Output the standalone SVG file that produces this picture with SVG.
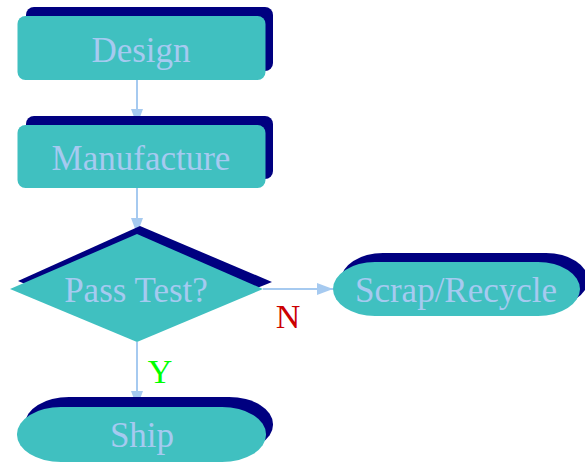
<svg xmlns="http://www.w3.org/2000/svg" width="585" height="464" viewBox="0 0 585 464">
  <style>
    .shadow { fill: #000080; }
    .body { fill: #40C0C0; }
    .label { font-family: "Liberation Serif", "Times New Roman", serif; font-size: 35px; fill: #A6CAF0; text-anchor: middle; }
    .edge { stroke: #A6CAF0; stroke-width: 2; fill: none; }
    .branch { font-family: "Liberation Serif", "Times New Roman", serif; font-size: 34px; text-anchor: middle; }
  </style>
  <defs>
    <marker id="arrow" viewBox="0 0 16 12" refX="16" refY="6" markerWidth="16" markerHeight="12" markerUnits="userSpaceOnUse" orient="auto">
      <path d="M0,0 L16,6 L0,12 Z" fill="#A6CAF0"/>
    </marker>
  </defs>
  <rect width="585" height="464" fill="#FFFFFF"/>

  <g id="connectors">
    <line class="edge" x1="137" y1="80" x2="137" y2="125" marker-end="url(#arrow)"/>
    <line class="edge" x1="137" y1="188" x2="137" y2="234" marker-end="url(#arrow)"/>
    <line class="edge" x1="263" y1="289" x2="333" y2="289" marker-end="url(#arrow)"/>
    <line class="edge" x1="137" y1="342" x2="137" y2="407" marker-end="url(#arrow)"/>
    <text class="branch" x="288" y="328" fill="#CC0000">N</text>
    <text class="branch" x="160" y="383" fill="#00FF00">Y</text>
  </g>

  <g id="design">
    <rect class="shadow" x="26" y="7" width="247" height="64" rx="8"/>
    <rect class="body" x="17.5" y="16" width="248" height="64" rx="8"/>
    <text class="label" x="141" y="62">Design</text>
  </g>

  <g id="manufacture">
    <rect class="shadow" x="26" y="116" width="247" height="63" rx="8"/>
    <rect class="body" x="17.5" y="125" width="248" height="63" rx="8"/>
    <text class="label" x="141" y="170">Manufacture</text>
  </g>

  <g id="pass-test">
    <polygon class="shadow" points="140,226 272,282 145,334 18,281"/>
    <polygon class="body" points="137,234 263,289 137,342 10,289"/>
    <text class="label" x="136" y="302">Pass Test?</text>
  </g>

  <g id="scrap-recycle">
    <rect class="shadow" x="341" y="253" width="247" height="54" rx="42" ry="27"/>
    <rect class="body" x="333" y="262" width="247" height="54" rx="42" ry="27"/>
    <text class="label" x="456" y="302">Scrap/Recycle</text>
  </g>

  <g id="ship">
    <rect class="shadow" x="25" y="397" width="248" height="55" rx="44" ry="27"/>
    <rect class="body" x="17" y="407" width="249" height="55" rx="44" ry="27"/>
    <text class="label" x="142" y="447">Ship</text>
  </g>
</svg>
